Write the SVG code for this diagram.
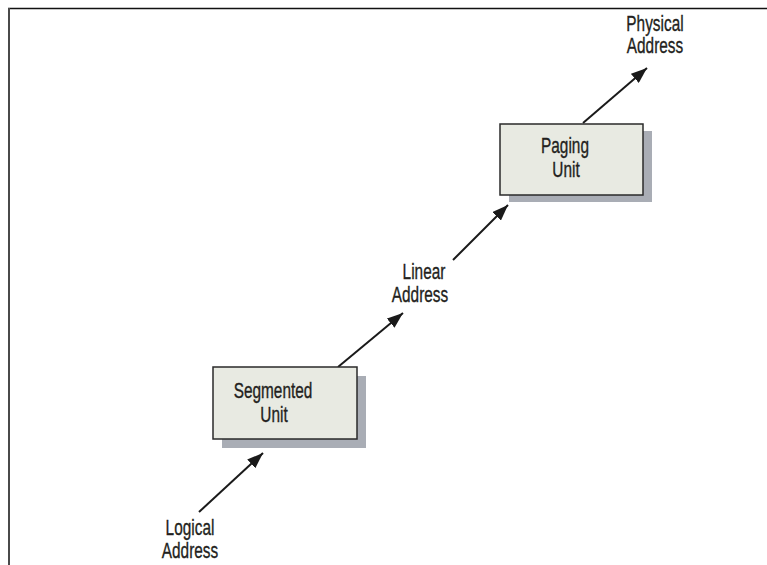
<svg xmlns="http://www.w3.org/2000/svg" width="767" height="565" viewBox="0 0 767 565">
<defs>
<marker id="ah" viewBox="0 0 16 12" refX="16" refY="6" markerWidth="16" markerHeight="12" markerUnits="userSpaceOnUse" orient="auto">
<path d="M0,0 L16,6 L0,12 Z" fill="#1a1a1a"/>
</marker>
<style>
.t{font-family:"Liberation Sans",Arial,sans-serif;font-size:22px;fill:#231f20;stroke:#231f20;stroke-width:0.35;text-anchor:middle}
.box{fill:#e8eae2;stroke:#2a2a2a;stroke-width:1.5}
.sh{fill:#a9adb5}
.c{stroke:#1a1a1a;stroke-width:2;fill:none;marker-end:url(#ah)}
</style>
</defs>
<rect width="767" height="565" fill="#fff"/>
<line x1="8" y1="8.5" x2="767" y2="8.5" stroke="#111" stroke-width="1.5"/>
<line x1="9" y1="8" x2="9" y2="565" stroke="#4a4a4a" stroke-width="2"/>
<g id="connectors">
<line class="c" x1="199" y1="512" x2="263" y2="453"/>
<line class="c" x1="338" y1="367" x2="403" y2="313"/>
<line class="c" x1="453" y1="260" x2="508" y2="205"/>
<line class="c" x1="583" y1="123" x2="647" y2="68"/>
</g>
<g id="segmented-unit">
<rect class="sh" x="222" y="376" width="144" height="72"/>
<rect class="box" x="213" y="367" width="144" height="72"/>
<text class="t" transform="translate(273,398) scale(0.7,1)">Segmented</text>
<text class="t" transform="translate(274,422) scale(0.7,1)">Unit</text>
</g>
<g id="paging-unit">
<rect class="sh" x="509" y="131" width="143" height="71"/>
<rect class="box" x="500" y="124" width="143" height="71"/>
<text class="t" transform="translate(565,153) scale(0.7,1)">Paging</text>
<text class="t" transform="translate(566,177) scale(0.7,1)">Unit</text>
</g>
<g id="logical-address">
<text class="t" transform="translate(190,535) scale(0.7,1)">Logical</text>
<text class="t" transform="translate(190,558) scale(0.7,1)">Address</text>
</g>
<g id="linear-address">
<text class="t" transform="translate(424,279) scale(0.7,1)">Linear</text>
<text class="t" transform="translate(420,302) scale(0.7,1)">Address</text>
</g>
<g id="physical-address">
<text class="t" transform="translate(655,31) scale(0.7,1)">Physical</text>
<text class="t" transform="translate(655,53) scale(0.7,1)">Address</text>
</g>
</svg>
